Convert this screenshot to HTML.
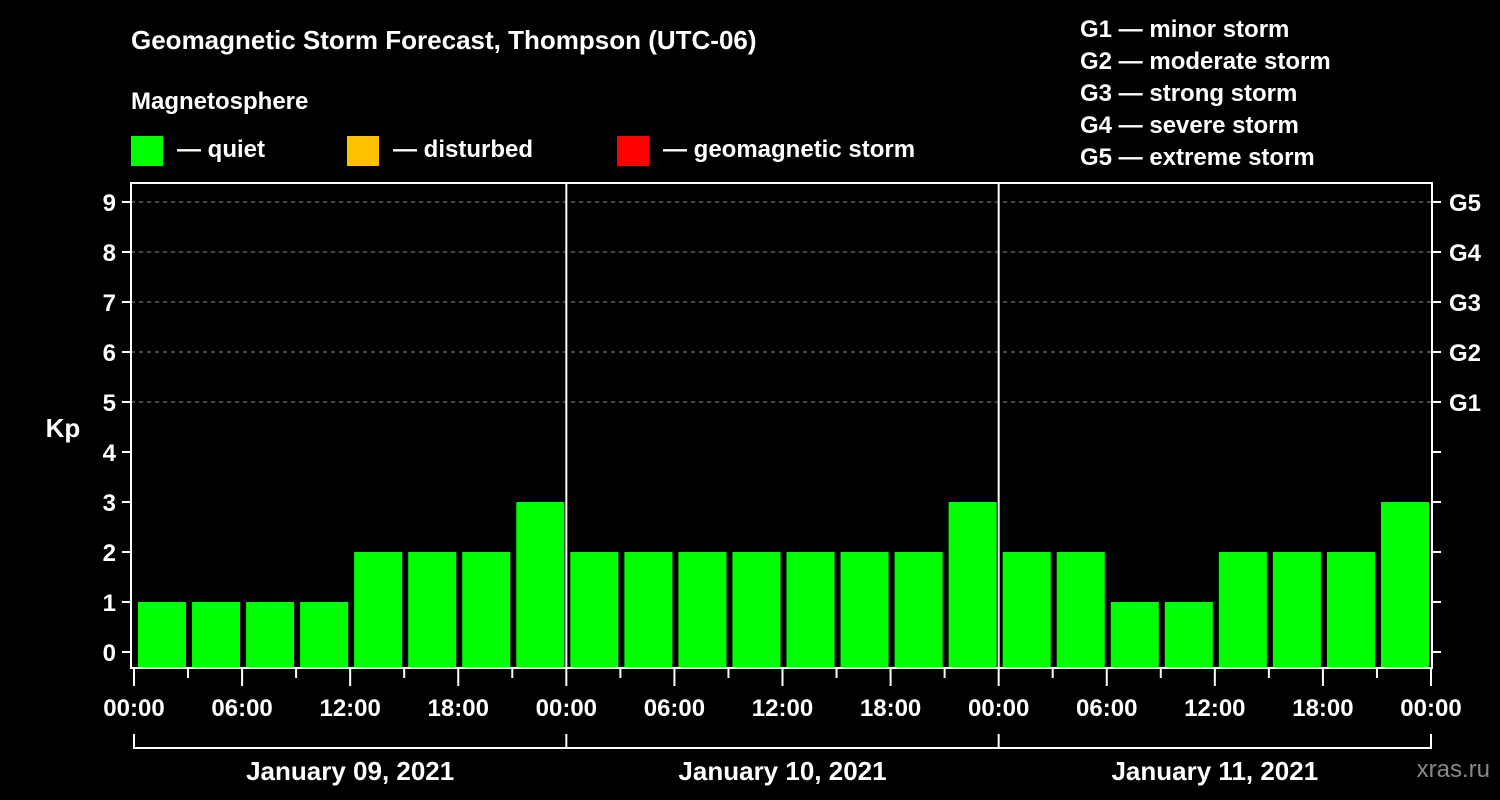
<!DOCTYPE html>
<html><head><meta charset="utf-8"><style>
html,body{margin:0;padding:0;background:#000;}
svg{display:block;font-family:"Liberation Sans",sans-serif;font-weight:bold;}
</style></head><body>
<svg id="chart" width="1500" height="800" viewBox="0 0 1500 800">
<rect width="1500" height="800" fill="#000"/>
<text x="131" y="49" fill="#fff" font-size="26">Geomagnetic Storm Forecast, Thompson (UTC-06)</text>
<text x="131" y="109" fill="#fff" font-size="24">Magnetosphere</text>
<g><rect x="131" y="136" width="32" height="30" fill="#00ff00"/><text x="177" y="157" fill="#fff" font-size="24">— quiet</text></g>
<g><rect x="347" y="136" width="32" height="30" fill="#ffc000"/><text x="393" y="157" fill="#fff" font-size="24">— disturbed</text></g>
<g><rect x="617" y="136" width="32" height="30" fill="#ff0000"/><text x="663" y="157" fill="#fff" font-size="24">— geomagnetic storm</text></g>
<g fill="#fff" font-size="24">
<text x="1080" y="37">G1 — minor storm</text>
<text x="1080" y="69">G2 — moderate storm</text>
<text x="1080" y="101">G3 — strong storm</text>
<text x="1080" y="133">G4 — severe storm</text>
<text x="1080" y="165">G5 — extreme storm</text>
</g>
<text x="63" y="437" fill="#fff" font-size="26" text-anchor="middle">Kp</text>
<text x="1490" y="777" fill="#888" font-size="24" text-anchor="end" font-weight="normal">xras.ru</text>
<g id="grid"></g><g id="bars"></g><g id="axes"></g>
</svg>
<script>
const kpValues = [1,1,1,1,2,2,2,3, 2,2,2,2,2,2,2,3, 2,2,1,1,2,2,2,3];
const dayLabels = ["January 09, 2021","January 10, 2021","January 11, 2021"];
const hourLabels = ["00:00","06:00","12:00","18:00"];
const yTicks = [0,1,2,3,4,5,6,7,8,9];
const gLabels = ["G1","G2","G3","G4","G5"];
const gLevels = [5,6,7,8,9];

const NS="http://www.w3.org/2000/svg";
const X0=134, X1=1431, PT=183, PB=668;
const nSlots=kpValues.length;
const slotW=(X1-X0)/nSlots;
function xs(i){return X0+i*slotW;}
function ys(v){return 652-50*v;}
function mk(tag,attrs,parent){const e=document.createElementNS(NS,tag);for(const k in attrs)e.setAttribute(k,attrs[k]);parent.appendChild(e);return e;}
const grid=document.getElementById('grid'),bars=document.getElementById('bars'),axes=document.getElementById('axes');
function colorFor(v){return v>=5?'#ff0000':(v>=4?'#ffc000':'#00ff00');}
gLevels.forEach((lv,i)=>{
  const l=mk('line',{x1:131,x2:1432,y1:ys(lv),y2:ys(lv),stroke:'#888','stroke-dasharray':'4,4','stroke-width':1},grid);
  
  
});
kpValues.forEach((v,i)=>{
  const r=mk('rect',{x:xs(i)+4,y:ys(v),width:slotW-6,height:PB-1-ys(v),fill:colorFor(v)},bars);
  
  
});
// frame
mk('rect',{x:131,y:PT,width:1301,height:PB-PT,fill:'none',stroke:'#fff','stroke-width':2},axes);
for(let d=1;d<dayLabels.length;d++){const dx=xs(d*8);mk('line',{x1:dx,x2:dx,y1:PT,y2:PB,stroke:'#fff','stroke-width':2},axes);}
yTicks.forEach(t=>{
  mk('line',{x1:122,x2:131,y1:ys(t),y2:ys(t),stroke:'#fff','stroke-width':2},axes);
  mk('line',{x1:1432,x2:1441,y1:ys(t),y2:ys(t),stroke:'#fff','stroke-width':2},axes);
  const tx=mk('text',{x:116,y:ys(t)+9,fill:'#fff','font-size':24,'text-anchor':'end'},axes);tx.textContent=t;
  
  
});
gLevels.forEach((lv,i)=>{
  const tx=mk('text',{x:1449,y:ys(lv)+9,fill:'#fff','font-size':24},axes);tx.textContent=gLabels[i];
  
  
});
for(let i=0;i<=nSlots;i++){
  const x=xs(i);const major=i%2===0;
  mk('line',{x1:x,x2:x,y1:669,y2:major?686:678,stroke:'#fff','stroke-width':2},axes);
  if(major){const tx=mk('text',{x:x,y:716,fill:'#fff','font-size':24,'text-anchor':'middle'},axes);
    tx.textContent=hourLabels[(i/2)%4];
    
    }
}
mk('line',{x1:X0,x2:X1,y1:748,y2:748,stroke:'#fff','stroke-width':2},axes);
for(let d=0;d<=dayLabels.length;d++){const x=xs(d*8);mk('line',{x1:x,x2:x,y1:734,y2:749,stroke:'#fff','stroke-width':2},axes);}
dayLabels.forEach((lab,d)=>{
  const tx=mk('text',{x:(xs(d*8)+xs(d*8+8))/2,y:780,fill:'#fff','font-size':26,'text-anchor':'middle'},axes);tx.textContent=lab;
  
  
});
</script>
</body></html>
